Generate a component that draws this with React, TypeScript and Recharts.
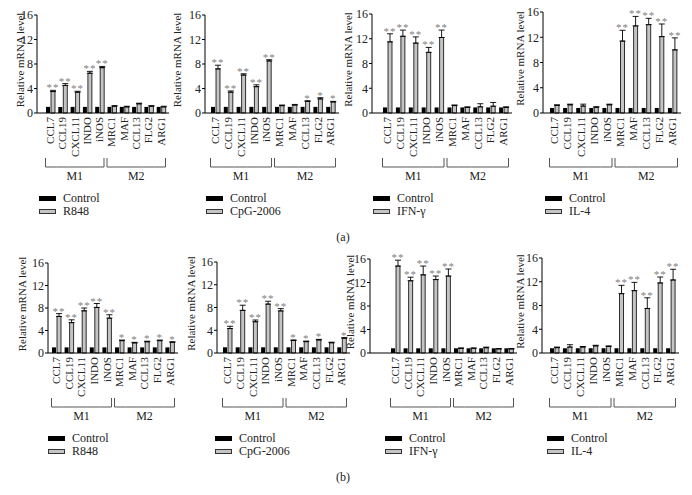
import React from 'react';
import { BarChart, Bar, XAxis, YAxis, ErrorBar, LabelList, Legend } from 'recharts';

const FONT = '"Liberation Serif", "Times New Roman", serif';

const genes = ['CCL7', 'CCL19', 'CXCL11', 'INDO', 'iNOS', 'MRC1', 'MAF', 'CCL13', 'FLG2', 'ARG1'];
const yTicks = [0, 4, 8, 12, 16];

// (a) row
const aR848Ctrl = [1.0, 1.0, 1.0, 1.0, 1.0, 1.0, 1.0, 1.0, 1.0, 1.0];
const aR848 = [3.5, 4.5, 3.4, 6.5, 7.4, 1.1, 1.0, 1.5, 1.1, 1.0];
const aR848Err = [0.2, 0.3, 0.15, 0.3, 0.2, 0.1, 0.1, 0.1, 0.1, 0.1];
const aR848Stars = ['**', '**', '**', '**', '**', '', '', '', '', ''];

const aCpgCtrl = [1.0, 1.0, 1.0, 1.0, 1.0, 1.0, 1.0, 1.0, 1.0, 1.0];
const aCpg = [7.2, 3.4, 6.2, 4.3, 8.5, 1.2, 1.3, 1.9, 2.3, 1.8];
const aCpgErr = [0.6, 0.2, 0.2, 0.3, 0.2, 0.1, 0.1, 0.1, 0.2, 0.1];
const aCpgStars = ['**', '**', '**', '**', '**', '', '', '*', '*', '*'];

const aIfnCtrl = [0.9, 0.9, 0.9, 0.9, 0.9, 0.9, 0.9, 0.9, 0.9, 0.9];
const aIfn = [11.5, 12.4, 11.3, 9.8, 12.2, 1.2, 0.9, 1.0, 1.1, 0.9];
const aIfnErr = [1.3, 1.0, 1.0, 0.8, 1.2, 0.1, 0.1, 0.5, 0.6, 0.1];
const aIfnStars = ['**', '**', '**', '**', '**', '', '', '', '', ''];

const aIl4Ctrl = [0.8, 0.8, 0.8, 0.8, 0.8, 0.8, 0.8, 0.8, 0.8, 0.8];
const aIl4 = [1.2, 1.3, 1.1, 0.9, 1.3, 11.4, 13.8, 14.0, 12.1, 10.0];
const aIl4Err = [0.1, 0.1, 0.3, 0.1, 0.1, 1.7, 1.5, 1.0, 2.0, 1.9];
const aIl4Stars = ['', '', '', '', '', '**', '**', '**', '**', '**'];

// (b) row
const bR848Ctrl = [1.0, 1.0, 1.0, 1.0, 1.0, 1.0, 1.0, 1.0, 1.0, 1.0];
const bR848 = [6.5, 5.4, 7.5, 8.1, 6.2, 2.2, 1.8, 2.0, 2.2, 1.9];
const bR848Err = [0.5, 0.5, 0.5, 0.7, 0.6, 0.1, 0.1, 0.1, 0.1, 0.1];
const bR848Stars = ['**', '**', '**', '**', '**', '*', '*', '*', '*', '*'];

const bCpgCtrl = [1.0, 1.0, 1.0, 1.0, 1.0, 1.0, 1.0, 1.0, 1.0, 1.0];
const bCpg = [4.3, 7.5, 5.5, 8.6, 7.4, 2.2, 2.0, 2.3, 1.8, 2.6];
const bCpgErr = [0.4, 0.9, 0.3, 0.5, 0.4, 0.1, 0.1, 0.1, 0.1, 0.1];
const bCpgStars = ['**', '**', '**', '**', '**', '*', '*', '*', '', '*'];

const bIfnCtrl = [0.8, 0.8, 0.8, 0.8, 0.8, 0.8, 0.8, 0.8, 0.8, 0.8];
const bIfn = [14.8, 12.3, 13.3, 12.5, 13.1, 0.8, 0.8, 0.9, 0.7, 0.7];
const bIfnErr = [1.0, 0.6, 1.5, 0.6, 1.2, 0.05, 0.05, 0.1, 0.05, 0.05];
const bIfnStars = ['**', '**', '**', '**', '**', '', '', '', '', ''];

const bIl4Ctrl = [0.8, 0.8, 0.8, 0.8, 0.8, 0.8, 0.8, 0.8, 0.8, 0.8];
const bIl4 = [0.9, 1.0, 1.0, 1.2, 1.1, 10.0, 10.5, 7.5, 11.8, 12.3];
const bIl4Err = [0.1, 0.4, 0.1, 0.1, 0.1, 1.4, 1.4, 1.8, 1.0, 1.8];
const bIl4Stars = ['', '', '', '', '', '**', '**', '**', '**', '**'];

interface PanelProps {
  ctrl: number[];
  treat: number[];
  err: number[];
  stars: string[];
  name: string;
  axisX: number;
  bandStart: number;
  band: number;
  y16: number;
  y0: number;
  labelDist: number;
  swatchLeft: number;
}

const GeneTick = (props: any) => {
  const { x, y, payload } = props;
  const i = payload.index ?? props.index ?? 0;
  const off = payload.offset ?? 6.3;
  const pos = i % 5;
  const x0 = x - off + (pos === 0 ? 1.5 : 0);
  const x1 = x + off - (pos === 4 ? 1.5 : 0);
  const by = y + 54;
  return (
    <g>
      <text
        x={x}
        y={y + 4}
        dy="0.35em"
        transform={`rotate(-90 ${x} ${y + 4})`}
        textAnchor="end"
        fontSize={11}
        fontFamily={FONT}
        fill="#222"
      >
        {payload.value}
      </text>
      <line x1={x0} x2={x1} y1={by} y2={by} stroke="#555" strokeWidth={1} />
      {pos === 0 && <line x1={x0} x2={x0} y1={y + 45} y2={by} stroke="#555" strokeWidth={1} />}
      {pos === 4 && <line x1={x1} x2={x1} y1={y + 45} y2={by} stroke="#555" strokeWidth={1} />}
      {pos === 2 && (
        <text x={x} y={y + 63} dy="0.35em" textAnchor="middle" fontSize={12} fontFamily={FONT} fill="#222">
          {i < 5 ? 'M1' : 'M2'}
        </text>
      )}
    </g>
  );
};

const Panel = (p: PanelProps) => {
  const data = genes.map((g, i) => ({
    gene: g,
    control: p.ctrl[i],
    treat: p.treat[i],
    err: p.err[i],
  }));

  const yAxisW = 40;
  const mTop = 22;
  const padL = p.bandStart - p.axisX;
  const plotW = padL + p.band * 10 + 2;
  const plotH = p.y0 - p.y16;
  const width = yAxisW + plotW + 2;
  const height = mTop + plotH + 75 + 35;
  const left = p.axisX - yAxisW;
  const top = p.y16 - mTop;

  const renderStars = (lp: any) => {
    const vb = lp.viewBox || lp;
    const idx = lp.index;
    const s = p.stars[idx];
    if (!s) return null;
    const h = Math.abs(vb.height);
    const val = p.treat[idx];
    const ppu = val ? h / val : 0;
    const topY = Math.min(vb.y, vb.y + vb.height) - p.err[idx] * ppu;
    return (
      <text
        key={`s-${idx}`}
        x={vb.x + vb.width / 2}
        y={topY + 1}
        textAnchor="middle"
        fontSize={11}
        fontFamily={FONT}
        fill="#808080"
        letterSpacing={1}
      >
        {s}
      </text>
    );
  };

  return (
    <div style={{ position: 'absolute', left, top }}>
      <BarChart
        width={width}
        height={height}
        data={data}
        margin={{ top: mTop, right: 2, bottom: 35, left: 0 }}
        barSize={4}
        barGap={1}
      >
        <XAxis
          dataKey="gene"
          type="category"
          interval={0}
          height={75}
          padding={{ left: padL, right: 2 }}
          axisLine={{ stroke: '#000' }}
          tickLine={false}
          tickSize={0}
          tickMargin={0}
          tick={(tp: any) => <GeneTick {...tp} />}
        />
        <YAxis
          type="number"
          domain={[0, 16]}
          ticks={yTicks}
          width={yAxisW}
          axisLine={{ stroke: '#000' }}
          tickLine={{ stroke: '#000' }}
          tickSize={3}
          tickMargin={1}
          tick={{ fontSize: 12, fontFamily: FONT, fill: '#222' }}
          label={{
            content: (lp: any) => {
              const vb = lp.viewBox;
              const cx = vb.x + vb.width - p.labelDist;
              const cy = vb.y + vb.height / 2 - 4;
              return (
                <text
                  x={cx}
                  y={cy}
                  transform={`rotate(-90 ${cx} ${cy})`}
                  textAnchor="middle"
                  dy="0.35em"
                  fontSize={11}
                  fontFamily={FONT}
                  fill="#222"
                >
                  Relative mRNA level
                </text>
              );
            },
          }}
        />
        <Legend
          layout="vertical"
          align="center"
          verticalAlign="middle"
          wrapperStyle={{ left: p.swatchLeft - left, top: p.y0 + 78.5 - top, width: 130 }}
          content={() => (
            <div style={{ fontFamily: FONT, fontSize: 12, color: '#222', lineHeight: '13px' }}>
              <div style={{ display: 'flex', alignItems: 'center', height: 13 }}>
                <span style={{ display: 'inline-block', width: 17, height: 5, background: '#000', marginRight: 7 }} />
                Control
              </div>
              <div style={{ display: 'flex', alignItems: 'center', height: 13 }}>
                <span
                  style={{
                    display: 'inline-block',
                    width: 15,
                    height: 3,
                    background: '#c4c4c4',
                    border: '1px solid #333',
                    marginRight: 7,
                  }}
                />
                {p.name}
              </div>
            </div>
          )}
        />
        <Bar dataKey="control" fill="#000" isAnimationActive={false} />
        <Bar dataKey="treat" fill="#c4c4c4" stroke="#000" strokeWidth={0.8} isAnimationActive={false}>
          <ErrorBar
            dataKey={(d: any) => [0, d.err]}
            direction="y"
            width={3}
            stroke="#000"
            strokeWidth={0.9}
          />
          <LabelList dataKey="treat" content={renderStars} />
        </Bar>
      </BarChart>
    </div>
  );
};

const Caption = ({ text, y }: { text: string; y: number }) => (
  <div
    style={{
      position: 'absolute',
      left: 320,
      top: y,
      width: 46,
      textAlign: 'center',
      fontFamily: FONT,
      fontSize: 12,
      color: '#222',
    }}
  >
    {text}
  </div>
);

export default function App() {
  return (
    <div style={{ position: 'absolute', left: 0, top: 0, width: 692, height: 495, background: '#fff' }}>
      <Panel ctrl={aR848Ctrl} treat={aR848} err={aR848Err} stars={aR848Stars} name="R848"
        axisX={37} bandStart={44} band={12.3} y16={15} y0={113} labelDist={17} swatchLeft={39} />
      <Panel ctrl={aCpgCtrl} treat={aCpg} err={aCpgErr} stars={aCpgStars} name="CpG-2006"
        axisX={205} bandStart={209} band={12.8} y16={15} y0={113} labelDist={28} swatchLeft={206} />
      <Panel ctrl={aIfnCtrl} treat={aIfn} err={aIfnErr} stars={aIfnStars} name="IFN-γ"
        axisX={372} bandStart={381} band={12.9} y16={14} y0={113} labelDist={24} swatchLeft={373} />
      <Panel ctrl={aIl4Ctrl} treat={aIl4} err={aIl4Err} stars={aIl4Stars} name="IL-4"
        axisX={543} bandStart={548} band={13.1} y16={12} y0={113} labelDist={23} swatchLeft={545} />
      <Caption text="(a)" y={230} />

      <Panel ctrl={bR848Ctrl} treat={bR848} err={bR848Err} stars={bR848Stars} name="R848"
        axisX={48} bandStart={50} band={12.6} y16={263} y0={353} labelDist={26} swatchLeft={48} />
      <Panel ctrl={bCpgCtrl} treat={bCpg} err={bCpgErr} stars={bCpgStars} name="CpG-2006"
        axisX={217} bandStart={221} band={12.7} y16={262} y0={353} labelDist={26} swatchLeft={215} />
      <Panel ctrl={bIfnCtrl} treat={bIfn} err={bIfnErr} stars={bIfnStars} name="IFN-γ"
        axisX={370} bandStart={389} band={12.6} y16={259} y0={353} labelDist={20} swatchLeft={385} />
      <Panel ctrl={bIl4Ctrl} treat={bIl4} err={bIl4Err} stars={bIl4Stars} name="IL-4"
        axisX={542} bandStart={548} band={12.9} y16={258} y0={353} labelDist={22} swatchLeft={547} />
      <Caption text="(b)" y={470} />
    </div>
  );
}
